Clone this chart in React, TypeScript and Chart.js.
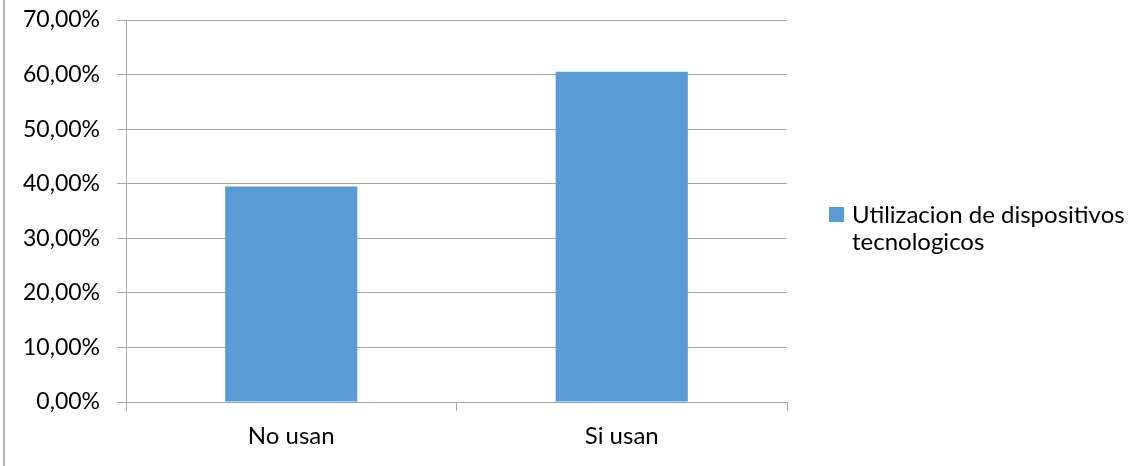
import React, { useEffect, useRef } from "react";
import { Chart, registerables } from "chart.js";

Chart.register(...registerables);

// Chart data
const categories: string[] = ["No usan", "Si usan"];
const seriesLabel = "Utilizacion de dispositivos tecnologicos";
const usageShare: number[] = [0.395, 0.605];
const yTickValues: number[] = [0, 0.1, 0.2, 0.3, 0.4, 0.5, 0.6, 0.7];

const BAR_COLOR = "#5b9bd5";
const GRID_COLOR = "#a6a6a6";
const TEXT_COLOR = "#000000";
const FONT_FAMILY = "Lato, 'Noto Sans', sans-serif";
const Y_FONT_SIZE = 23;
const LABEL_FONT_SIZE = 24;

const formatPercent = (v: number) =>
  (v * 100).toFixed(2).replace(".", ",") + "%";

// Draws the legend to the right of the plot, wrapping the series name.
const wrappedLegend = {
  id: "wrappedLegend",
  afterDraw(chart: any, _args: any, opts: any) {
    const ctx = chart.ctx as CanvasRenderingContext2D;
    const ds = chart.data.datasets[0];
    ctx.save();
    ctx.font = `${LABEL_FONT_SIZE}px ${FONT_FAMILY}`;
    const words = String(ds.label).split(" ");
    const lines: string[] = [];
    let line = "";
    for (const w of words) {
      const test = line ? line + " " + w : w;
      if (line && ctx.measureText(test).width > opts.maxWidth) {
        lines.push(line);
        line = w;
      } else {
        line = test;
      }
    }
    if (line) lines.push(line);

    ctx.fillStyle = ds.backgroundColor;
    ctx.fillRect(opts.x, opts.boxTop, opts.boxSize, opts.boxSize);

    ctx.fillStyle = TEXT_COLOR;
    ctx.textBaseline = "alphabetic";
    ctx.textAlign = "left";
    lines.forEach((l, i) => {
      ctx.fillText(l, opts.textX, opts.firstBaseline + i * opts.lineHeight);
    });
    ctx.restore();
  },
};

// Thin frame line along the left edge of the chart image.
const leftFrame = {
  id: "leftFrame",
  beforeDraw(chart: any) {
    const ctx = chart.ctx as CanvasRenderingContext2D;
    ctx.save();
    ctx.fillStyle = "#ffffff";
    ctx.fillRect(0, 0, chart.width, chart.height);
    ctx.fillStyle = "#b4b4b4";
    ctx.fillRect(3, 0, 2, chart.height);
    ctx.restore();
  },
};

export default function App() {
  const canvasRef = useRef<HTMLCanvasElement | null>(null);

  useEffect(() => {
    if (!canvasRef.current) return;
    const chart = new Chart(canvasRef.current, {
      type: "bar",
      data: {
        labels: categories,
        datasets: [
          {
            label: seriesLabel,
            data: usageShare,
            backgroundColor: BAR_COLOR,
            borderWidth: 0,
            barPercentage: 0.4,
            categoryPercentage: 1.0,
          },
        ],
      },
      options: {
        animation: false,
        responsive: true,
        maintainAspectRatio: false,
        layout: { padding: { left: 0, top: 20, right: 350, bottom: 0 } },
        plugins: {
          legend: { display: false },
          tooltip: { enabled: false },
          wrappedLegend: {
            x: 829,
            boxTop: 207,
            boxSize: 15,
            textX: 852,
            firstBaseline: 223,
            lineHeight: 27,
            maxWidth: 280,
          },
        } as any,
        scales: {
          x: {
            grid: {
              drawOnChartArea: false,
              drawTicks: true,
              tickLength: 9,
              color: GRID_COLOR,
              offset: true,
            },
            border: { color: GRID_COLOR },
            ticks: {
              color: TEXT_COLOR,
              font: { family: FONT_FAMILY, size: LABEL_FONT_SIZE },
              padding: 11,
              maxRotation: 0,
            },
            afterFit: (s: any) => {
              s.height = 64;
              s.paddingLeft = 0;
              s.paddingRight = 0;
            },
          },
          y: {
            min: yTickValues[0],
            max: yTickValues[yTickValues.length - 1],
            afterBuildTicks: (s: any) => {
              s.ticks = yTickValues.map((v) => ({ value: v }));
            },
            grid: { color: GRID_COLOR, tickLength: 9 },
            border: { color: GRID_COLOR },
            ticks: {
              color: TEXT_COLOR,
              font: { family: FONT_FAMILY, size: Y_FONT_SIZE },
              padding: 17,
              callback: (v: any) => formatPercent(Number(v)),
            },
            afterFit: (s: any) => {
              s.width = 126;
              s.paddingTop = 0;
              s.paddingBottom = 0;
            },
          },
        },
      },
      plugins: [leftFrame, wrappedLegend],
    });
    return () => chart.destroy();
  }, []);

  return (
    <div
      style={{
        position: "absolute",
        left: 0,
        top: 0,
        width: 1137,
        height: 466,
        background: "#fff",
      }}
    >
      <canvas ref={canvasRef} />
    </div>
  );
}
